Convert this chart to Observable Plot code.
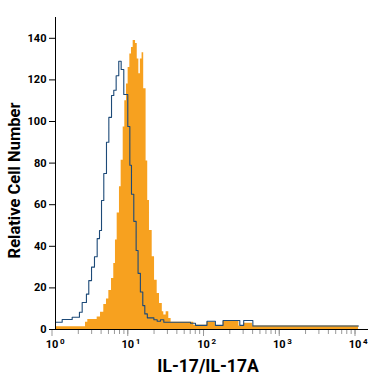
<!DOCTYPE html>
<html><head><meta charset="utf-8">
<script src="https://cdn.jsdelivr.net/npm/d3@7"></script>
<script src="https://cdn.jsdelivr.net/npm/@observablehq/plot@0.6"></script>
<style>body{margin:0;background:#fff}</style>
</head><body><div id="chart"></div>
<script>
// Stained (anti-IL-17) histogram: bin edges (fluorescence) and counts
const stainedEdges = [1, 2.49, 2.67, 3.55, 3.93, 4.34, 4.71, 5.06, 5.49, 5.88, 6.19, 6.52, 6.99, 7.36, 7.83, 8.22, 8.65, 9.1, 9.58, 10.07, 10.6, 11.4, 12.0, 12.6, 13.2, 13.9, 14.6, 15.7, 16.5, 17.4, 18.9, 20.3, 22.0, 23.6, 25.7, 26.9, 28.9, 31.3, 33.6, 67, 100, 129, 163, 264, 305, 398, 10000];
const stainedCounts = [1.3, 3.5, 4.8, 6, 8.3, 12, 14.7, 18.8, 24.5, 31.7, 43, 56, 68.6, 81.4, 97.4, 110, 118, 126, 132.5, 135.6, 139, 137.5, 130, 123, 130, 133, 115.7, 81, 62, 47.6, 35, 23.7, 17.3, 12.5, 8.5, 7, 8.5, 5.3, 3.5, 2, 3.5, 1.7, 4, 1.7, 3, 1.7];
// Isotype control histogram (outline)
const isotypeEdges = [1, 1.225, 1.66, 2.07, 2.25, 2.56, 2.75, 2.99, 3.27, 3.55, 3.81, 4.05, 4.34, 4.71, 5.06, 5.49, 5.88, 6.32, 6.84, 7.36, 7.97, 9.0, 9.58, 10.07, 10.8, 11.6, 12.3, 13.2, 14.2, 15.1, 16.3, 19.9, 22.0, 24.3, 26.9, 60.6, 70.5, 100, 129, 163, 271, 305, 403, 10000];
const isotypeCounts = [3.5, 4.8, 5.9, 8.3, 13, 17, 23.5, 30, 35, 43.7, 47.6, 62, 75, 90, 102, 112.5, 115, 122, 129, 125, 113, 97.6, 79, 65, 52, 38, 27, 18, 11.5, 7.5, 5.6, 4.7, 4, 4.7, 3.5, 3, 2, 4, 2, 4.3, 2, 4.3, 1.7];
const yTicks = [0, 20, 40, 60, 80, 100, 120, 140];
const majorTicks = [1, 10, 100, 1000, 10000];
const majorExponents = ["0", "1", "2", "3", "4"];
const minorTicks = [2,3,4,5,6,7,8,9,20,30,40,50,60,70,80,90,200,300,400,500,600,700,800,900,2000,3000,4000,5000,6000,7000,8000,9000];
const xTitle = "IL-17/IL-17A";
const yTitle = "Relative Cell Number";

const toSteps = (edges, counts) => edges.map((e, i) => ({x: e, y: counts[Math.min(i, counts.length - 1)]}));
const stained = toSteps(stainedEdges, stainedCounts);
const isotype = toSteps(isotypeEdges, isotypeCounts);

const chart = Plot.plot({
  width: 375, height: 375,
  marginLeft: 55, marginRight: 7, marginTop: 17, marginBottom: 46,
  style: {fontFamily: "Roboto, 'Liberation Sans', sans-serif", background: "#fff", color: "#000"},
  x: {type: "log", domain: [1, 13550]},
  y: {domain: [0, 150]},
  marks: [
    Plot.areaY(stained, {x: "x", y: "y", curve: "step-after", fill: "#f7a11f"}),
    Plot.line(isotype, {x: "x", y: "y", curve: "step-after", stroke: "#1d4a78", strokeWidth: 1.1}),
    Plot.axisX({ticks: minorTicks, tickSize: 5, tickFormat: () => "", label: null, stroke: "#999"}),
    Plot.axisX({ticks: majorTicks, tickSize: 7, tickPadding: 4, tickFormat: () => "10", label: null, stroke: "#999", fontSize: 11, fontWeight: "bold", dx: -3.5}),
    Plot.text(majorTicks, {x: d => d, text: (d, i) => majorExponents[i], frameAnchor: "bottom", lineAnchor: "top", textAnchor: "start", dx: 4.5, dy: 9, fontSize: 8, fontWeight: "bold"}),
    Plot.ruleY([0], {stroke: "#000", strokeWidth: 1}),
    Plot.ruleX([1], {stroke: "#000", strokeWidth: 1}),
    Plot.axisY({ticks: yTicks, tickSize: 6, tickPadding: 3, label: null, fontSize: 11, fontWeight: "bold"}),
    Plot.text([xTitle], {frameAnchor: "bottom", textAnchor: "middle", lineAnchor: "bottom", dx: -4, dy: 42, fontSize: 17.5, fontWeight: "bold"}),
    Plot.text([yTitle], {frameAnchor: "left", textAnchor: "middle", rotate: -90, dx: -41, dy: 7, fontSize: 16.5, fontWeight: "bold"})
  ]
});
document.getElementById("chart").appendChild(chart);
</script>
</body></html>
